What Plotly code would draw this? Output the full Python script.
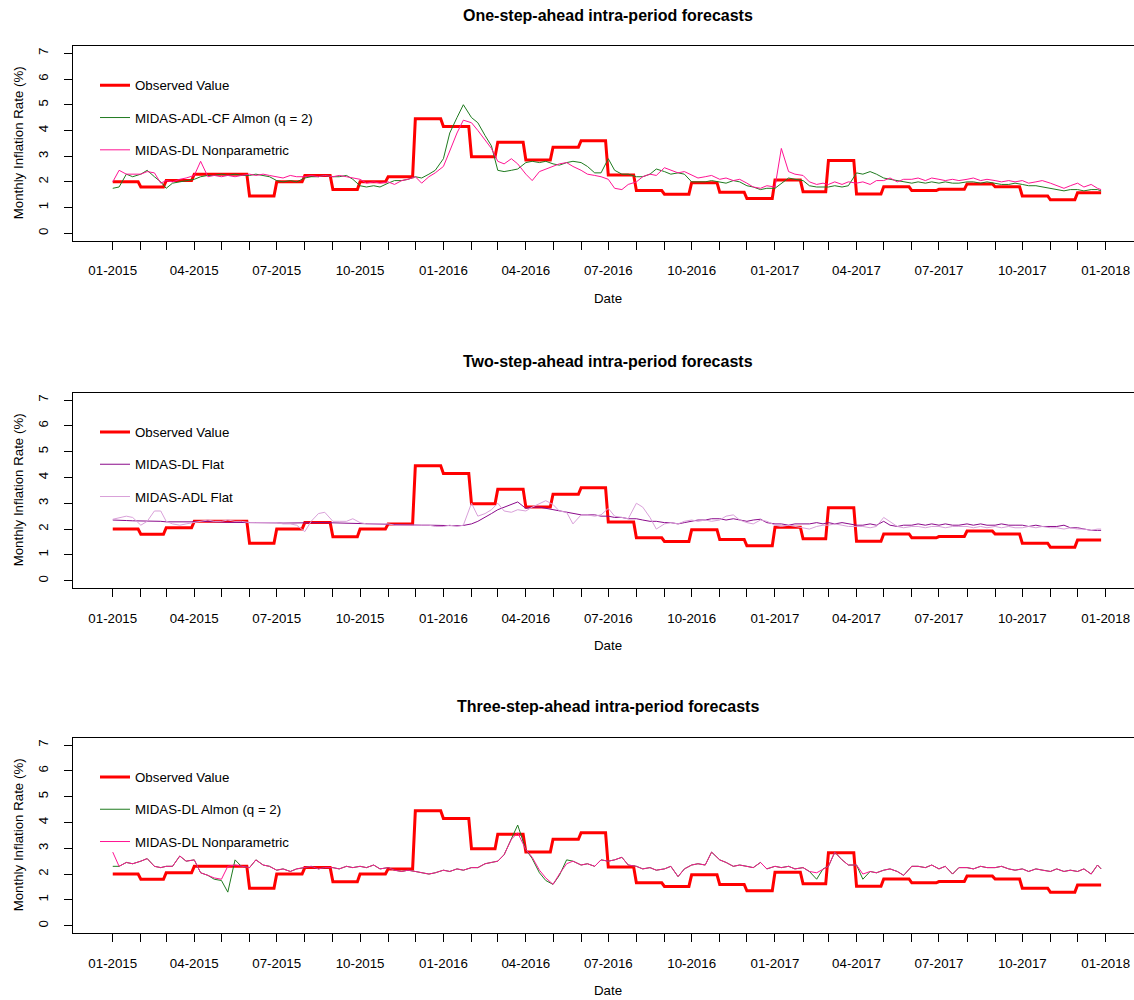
import pandas as pd
import plotly.graph_objects as go

# ---------------- data ----------------
# monthly observed inflation (Jan 2015 .. Dec 2017)
observed = [2.0, 1.8, 2.05, 2.3, 2.3, 1.45, 2.0, 2.25, 1.7, 2.0, 2.2, 4.45,
            4.15, 2.98, 3.54, 2.85, 3.35, 3.6, 2.27, 1.66, 1.52, 1.97, 1.6, 1.35,
            2.07, 1.62, 2.83, 1.53, 1.81, 1.66, 1.71, 1.92, 1.81, 1.45, 1.3, 1.58]
obs_last_day = "2017-12-27"

# forecast sampling days within each month
sample_days = [1, 8, 16, 23]
last_day = "2017-12-27"

# Panel 1: MIDAS-ADL-CF Almon (q = 2)
p1_almon = [1.75, 1.8, 2.3, 2.2,   2.3, 2.45, 2.2, 2.0,   1.75, 1.95, 2.0, 2.05,  2.1, 2.2, 2.25, 2.25,
            2.3, 2.25, 2.3, 2.25,  2.25, 2.3, 2.25, 2.2,  2.05, 2.0, 2.05, 2.0,   2.15, 2.2, 2.2, 2.25,
            2.2, 2.2, 2.25, 2.1,   1.85, 1.8, 1.85, 1.8,  1.95, 2.05, 2.05, 2.1,  2.2, 2.15, 2.3, 2.45,
            2.9, 3.9, 4.5, 5.0,    4.5, 4.3, 3.8, 3.4,    2.45, 2.4, 2.45, 2.5,   2.75, 2.8, 2.75, 2.8,
            2.7, 2.65, 2.75, 2.8,  2.75, 2.6, 2.35, 2.35, 2.9, 2.45, 2.3, 2.3,    2.2, 2.2, 2.3, 2.5,
            2.4, 2.3, 2.35, 2.3,   2.0, 2.0, 2.0, 2.05,   2.0, 1.95, 2.05, 2.0,   1.85, 1.8, 1.7, 1.75,
            1.75, 1.95, 2.15, 2.1, 2.05, 1.85, 1.8, 1.8,  1.8, 1.85, 1.8, 1.85,   2.35, 2.3, 2.4, 2.3,
            2.15, 2.1, 2.05, 2.0,  1.95, 2.0, 1.95, 2.0,  1.95, 2.0, 1.95, 1.95,  2.0, 2.0, 1.95, 2.0,
            1.95, 1.9, 1.9, 1.95,  1.9, 1.85, 1.85, 1.8,  1.75, 1.7, 1.65, 1.7,   1.7, 1.65, 1.7, 1.7,
            1.65]
# Panel 1: MIDAS-DL Nonparametric
p1_nonpar = [2.0, 2.45, 2.3, 2.3,   2.3, 2.4, 2.35, 1.95,  2.05, 2.0, 2.1, 2.15,  2.25, 2.8, 2.2, 2.25,
             2.2, 2.25, 2.2, 2.25,  2.3, 2.25, 2.3, 2.25,  2.2, 2.15, 2.25, 2.2,  2.2, 2.25, 2.2, 2.25,
             2.2, 2.25, 2.2, 2.15,  2.1, 1.95, 2.0, 1.95,  2.0, 1.9, 2.05, 2.1,   2.2, 1.95, 2.2, 2.35,
             2.6, 3.2, 3.9, 4.4,    4.3, 4.0, 3.6, 3.3,    2.8, 2.7, 2.9, 2.7,    2.3, 2.05, 2.4, 2.5,
             2.6, 2.7, 2.75, 2.6,   2.45, 2.3, 2.25, 2.2,  2.1, 1.75, 1.7, 1.9,   2.0, 2.2, 2.3, 2.25,
             2.55, 2.45, 2.35, 2.4, 2.25, 2.15, 2.2, 2.25, 2.1, 2.15, 2.05, 2.1,  1.95, 1.8, 1.75, 1.85,
             1.8, 3.3, 2.4, 2.3,    2.25, 2.0, 1.9, 1.95,  1.9, 2.0, 1.9, 2.0,    1.95, 2.0, 1.9, 2.05,
             2.05, 2.15, 2.0, 2.1,  2.1, 2.15, 2.05, 2.15, 2.1, 2.05, 2.1, 2.05,  2.1, 2.15, 2.05, 2.1,
             2.05, 2.0, 2.05, 2.0,  2.05, 1.95, 2.0, 2.05, 1.95, 1.85, 1.75, 1.85, 1.95, 1.8, 1.9, 1.75,
             1.7]
# Panel 2: MIDAS-DL Flat
p2_dl_flat = [2.35, 2.33, 2.33, 2.32, 2.32, 2.3, 2.3, 2.3,   2.28, 2.28, 2.27, 2.27, 2.28, 2.3, 2.28, 2.27,
              2.27, 2.26, 2.26, 2.25, 2.25, 2.25, 2.24, 2.24, 2.24, 2.23, 2.24, 2.23, 2.25, 2.26, 2.25, 2.25,
              2.24, 2.23, 2.23, 2.22, 2.22, 2.21, 2.2, 2.2,   2.18, 2.17, 2.17, 2.16, 2.16, 2.15, 2.15, 2.14,
              2.14, 2.13, 2.13, 2.14, 2.2, 2.3, 2.45, 2.6,    2.75, 2.85, 2.95, 3.05, 2.8, 2.85, 2.85, 2.8,
              2.75, 2.7, 2.65, 2.6,  2.55, 2.55, 2.55, 2.5,   2.5, 2.45, 2.45, 2.4,  2.4, 2.35, 2.3, 2.3,
              2.25, 2.25, 2.2, 2.25, 2.3, 2.35, 2.35, 2.4,    2.4, 2.35, 2.4, 2.35,  2.3, 2.35, 2.38, 2.25,
              2.2, 2.2, 2.15, 2.2,   2.2, 2.2, 2.25, 2.2,     2.25, 2.2, 2.25, 2.2,  2.15, 2.15, 2.2, 2.15,
              2.3, 2.15, 2.1, 2.15,  2.15, 2.2, 2.15, 2.2,    2.15, 2.2, 2.15, 2.15, 2.2, 2.15, 2.2, 2.15,
              2.15, 2.2, 2.15, 2.15, 2.15, 2.1, 2.15, 2.1,    2.1, 2.1, 2.15, 2.05,  2.05, 2.0, 1.95, 1.95,
              1.95]
# Panel 2: MIDAS-ADL Flat
p2_adl_flat = [2.38, 2.45, 2.5, 2.45,  2.15, 2.3, 2.7, 2.7,    2.3, 2.2, 2.15, 2.2,   2.25, 2.3, 2.35, 2.3,
               2.3, 2.35, 2.3, 2.3,    2.25, 2.25, 2.25, 2.25, 2.25, 2.2, 2.2, 2.15,  1.9, 2.3, 2.6, 2.65,
               2.3, 2.3, 2.3, 2.4,     2.25, 2.2, 2.2, 2.2,    2.2, 2.15, 2.15, 2.15, 2.15, 2.15, 2.15, 2.1,
               2.1, 2.15, 2.1, 2.15,   3.0, 2.5, 2.6, 2.75,    3.0, 2.7, 2.65, 2.75,  2.7, 2.85, 3.0, 3.1,
               2.95, 2.7, 2.65, 2.2,   2.55, 2.55, 2.5, 2.55,  2.8, 2.5, 2.45, 2.4,   3.0, 2.85, 2.45, 2.0,
               2.2, 2.25, 2.2, 2.3,    2.35, 2.3, 2.35, 2.3,   2.35, 2.5, 2.55, 2.35, 2.25, 2.2, 2.35, 2.3,
               2.15, 2.1, 2.15, 2.1,   2.05, 2.0, 2.1, 2.15,   2.15, 2.2, 2.15, 2.1,  2.1, 2.1, 2.05, 2.1,
               2.45, 2.3, 2.1, 2.05,   2.1, 2.1, 2.05, 2.1,    2.1, 2.05, 2.1, 2.1,   2.1, 2.05, 2.1, 2.05,
               2.1, 2.05, 2.1, 2.05,   2.05, 2.1, 2.05, 2.1,   2.05, 2.05, 2.0, 2.05, 2.0, 2.0, 1.95, 2.0,
               2.0]
# Panel 3: MIDAS-DL Almon (q = 2)
p3_almon = [2.3, 2.3, 2.45, 2.4,    2.5, 2.6, 2.3, 2.25,   2.3, 2.3, 2.7, 2.5,    2.55, 2.05, 1.95, 1.8,
            1.75, 1.3, 2.55, 2.3,   2.25, 2.55, 2.35, 2.3,  2.15, 2.2, 2.1, 2.2,   2.25, 2.3, 2.2, 2.25,
            2.25, 2.2, 2.3, 2.25,   2.3, 2.25, 2.35, 2.2,   2.25, 2.15, 2.1, 2.15, 2.1, 2.05, 2.0, 2.05,
            2.15, 2.1, 2.2, 2.15,   2.25, 2.25, 2.4, 2.45,  2.5, 2.75, 3.35, 3.9,  2.95, 2.6, 2.05, 1.75,
            1.6, 1.95, 2.55, 2.5,   2.35, 2.4, 2.3, 2.55,   2.5, 2.55, 2.65, 2.35, 2.3, 2.2, 2.25, 2.15,
            2.2, 2.3, 1.9, 2.2,     2.35, 2.4, 2.35, 2.85,  2.55, 2.45, 2.3, 2.35, 2.3, 2.25, 2.45, 2.2,
            2.3, 2.25, 2.3, 2.2,    2.25, 2.1, 1.8, 2.2,    2.3, 2.85, 2.55, 2.35, 2.35, 1.8, 2.1, 2.05,
            2.15, 2.2, 2.1, 1.95,   2.3, 2.3, 2.25, 2.35,   2.2, 2.3, 2.0, 2.25,   2.25, 2.2, 2.3, 2.25,
            2.25, 2.3, 2.2, 2.15,   2.2, 2.1, 2.2, 2.15,    2.1, 2.2, 2.1, 2.15,   2.1, 2.2, 2.0, 2.35,
            2.2]
# Panel 3: MIDAS-DL Nonparametric
p3_nonpar = [2.85, 2.3, 2.45, 2.4,  2.5, 2.6, 2.3, 2.25,   2.3, 2.3, 2.7, 2.5,    2.55, 2.05, 1.95, 1.85,
             1.8, 2.3, 2.35, 2.3,   2.25, 2.55, 2.35, 2.3,  2.15, 2.2, 2.1, 2.2,   2.25, 2.3, 2.2, 2.25,
             2.25, 2.2, 2.3, 2.25,  2.3, 2.25, 2.35, 2.2,   2.25, 2.15, 2.1, 2.15, 2.1, 2.05, 2.0, 2.05,
             2.15, 2.1, 2.2, 2.15,  2.25, 2.25, 2.4, 2.45,  2.5, 2.75, 3.35, 3.6,  2.95, 2.65, 2.15, 1.85,
             1.6, 2.0, 2.4, 2.5,    2.35, 2.4, 2.3, 2.55,   2.5, 2.55, 2.65, 2.35, 2.3, 2.2, 2.25, 2.15,
             2.2, 2.3, 1.9, 2.2,    2.35, 2.4, 2.35, 2.85,  2.55, 2.45, 2.3, 2.35, 2.3, 2.25, 2.45, 2.2,
             2.3, 2.25, 2.3, 2.2,   2.25, 2.1, 2.05, 2.2,   2.3, 2.85, 2.55, 2.35, 2.35, 2.0, 2.1, 2.05,
             2.15, 2.2, 2.1, 1.95,  2.3, 2.3, 2.25, 2.35,   2.2, 2.3, 2.0, 2.25,   2.25, 2.2, 2.3, 2.25,
             2.25, 2.3, 2.2, 2.15,  2.2, 2.1, 2.2, 2.15,    2.1, 2.2, 2.1, 2.15,   2.1, 2.2, 2.0, 2.35,
             2.2]

tick_labels = ["01-2015", "", "", "04-2015", "", "", "07-2015", "", "", "10-2015", "", "",
               "01-2016", "", "", "04-2016", "", "", "07-2016", "", "", "10-2016", "", "",
               "01-2017", "", "", "04-2017", "", "", "07-2017", "", "", "10-2017", "", "",
               "01-2018"]

titles = ["One-step-ahead intra-period forecasts",
          "Two-step-ahead intra-period forecasts",
          "Three-step-ahead intra-period forecasts"]

# ---------------- derived x values ----------------
months = pd.date_range("2015-01-01", periods=len(observed), freq="MS")
tick_vals = pd.date_range("2015-01-01", periods=len(tick_labels), freq="MS")

obs_x, obs_y = [], []
for i, v in enumerate(observed):
    start = months[i]
    end = (months[i + 1] - pd.Timedelta(days=3)) if i + 1 < len(months) else pd.Timestamp(obs_last_day)
    obs_x += [start, end]
    obs_y += [v, v]

fc_x = [m + pd.Timedelta(days=d - 1) for m in months for d in sample_days] + [pd.Timestamp(last_day)]

# ---------------- figure ----------------
FONT = "Liberation Sans, Arial, Helvetica, sans-serif"
W, H = 1134, 1000
X0 = 72.7 / W
# panel boxes (pixels from top)
boxes = [(46.1, 240.5), (392.8, 587.9), (737.8, 932.9)]

panels = [
    [("MIDAS-ADL-CF Almon (q = 2)", p1_almon, "#1f7a1f"), ("MIDAS-DL Nonparametric", p1_nonpar, "#ff1493")],
    [("MIDAS-DL Flat", p2_dl_flat, "#8b0a8b"), ("MIDAS-ADL Flat", p2_adl_flat, "#d9a0d9")],
    [("MIDAS-DL Almon (q = 2)", p3_almon, "#1f7a1f"), ("MIDAS-DL Nonparametric", p3_nonpar, "#ff1493")],
]

fig = go.Figure()
annotations = []
layout = dict(width=W, height=H, margin=dict(l=0, r=0, t=0, b=0),
              paper_bgcolor="white", plot_bgcolor="white",
              font=dict(family=FONT, size=13.3, color="black"), showlegend=True)

for k in range(3):
    sfx = "" if k == 0 else str(k + 1)
    lg = "legend" if k == 0 else f"legend{k + 1}"
    top, bot = boxes[k]
    fig.add_trace(go.Scatter(x=obs_x, y=obs_y, mode="lines", name="Observed Value",
                             line=dict(color="#ff0000", width=3), xaxis="x" + sfx, yaxis="y" + sfx,
                             legend=lg, legendgroup=f"g{k}a"))
    for j, (nm, vals, col) in enumerate(panels[k]):
        fig.add_trace(go.Scatter(x=fc_x, y=vals, mode="lines", name=nm,
                                 line=dict(color=col, width=1), xaxis="x" + sfx, yaxis="y" + sfx,
                                 legend=lg, legendgroup=f"g{k}{j}"))
    layout["xaxis" + sfx] = dict(
        domain=[X0, 1.0], anchor="y" + sfx, type="date",
        range=["2014-11-17 19:00", "2018-02-01 07:00"],
        tickmode="array", tickvals=list(tick_vals), ticktext=tick_labels,
        ticks="outside", ticklen=8, tickwidth=1, tickcolor="black",
        showline=True, linecolor="black", linewidth=1, mirror=True,
        showgrid=False, zeroline=False, ticklabelstandoff=10,
        tickfont=dict(family=FONT, size=13.3, color="black"))
    layout["yaxis" + sfx] = dict(
        domain=[1 - bot / H, 1 - top / H], anchor="x" + sfx,
        range=[-0.28, 7.28], tickmode="array", tickvals=list(range(8)),
        tickangle=-90, ticks="outside", ticklen=8, tickwidth=1, tickcolor="black",
        showline=True, linecolor="black", linewidth=1, mirror=False,
        showgrid=False, zeroline=False, ticklabelstandoff=10,
        tickfont=dict(family=FONT, size=13.3, color="black"))
    layout[lg] = dict(x=95 / W, y=1 - (top + 24) / H, xanchor="left", yanchor="top",
                      bgcolor="rgba(0,0,0,0)", borderwidth=0, tracegroupgap=12,
                      traceorder="grouped", font=dict(family=FONT, size=13.3, color="black"))
    # title
    annotations.append(dict(text=f"<b>{titles[k]}</b>", x=608 / W, y=1 - (top - 31) / H,
                            xref="paper", yref="paper", xanchor="center", yanchor="middle",
                            showarrow=False, font=dict(family=FONT, size=16, color="black")))
    # x title
    annotations.append(dict(text="Date", x=608 / W, y=1 - (bot + 57.5) / H,
                            xref="paper", yref="paper", xanchor="center", yanchor="middle",
                            showarrow=False, font=dict(family=FONT, size=13.3, color="black")))
    # y title
    annotations.append(dict(text="Monthly Inflation Rate (%)", x=18 / W, y=1 - (top + bot) / 2 / H,
                            xref="paper", yref="paper", xanchor="center", yanchor="middle",
                            textangle=-90, showarrow=False,
                            font=dict(family=FONT, size=13.3, color="black")))

layout["annotations"] = annotations
fig.update_layout(**layout)

fig.write_html("out.html", config={"displayModeBar": False},
               post_script="document.body.style.margin='0px';document.body.style.overflow='hidden';")
